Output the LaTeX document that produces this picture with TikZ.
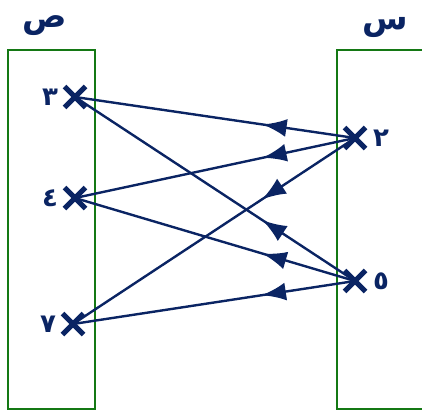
\documentclass[tikz,border=0pt]{standalone}
\usepackage{fontspec}
\newfontfamily\arabicfont[Script=Arabic]{DejaVu Sans}
\TeXXeTstate=1
\usetikzlibrary{arrows.meta,decorations.markings,shapes.misc}
\definecolor{navy}{RGB}{10,36,99}
\definecolor{setgreen}{RGB}{20,120,20}
\tikzset{
    map diagram/.style = {x=1pt, y=-1pt},
    setbox/.style      = {draw=setgreen, line width=1.8pt},
    elem/.style        = {cross out, draw=navy, line width=5pt,
                          minimum size=16pt, inner sep=0pt},
    num/.style         = {text=navy, font=\arabicfont\bfseries\fontsize{26}{26}\selectfont},
    setname/.style     = {text=navy, anchor=base, inner sep=0pt,
                          font=\arabicfont\bfseries\fontsize{33}{33}\selectfont},
    link/.style        = {draw=navy, line width=2.4pt,
                          postaction={decorate, decoration={markings,
                            mark=at position 0.33 with {\arrow{Latex[length=24pt,width=18pt]}}}}}
}
\begin{document}
\begin{tikzpicture}[map diagram]
\useasboundingbox (0,0) rectangle (422,412);

% the two sets
\draw[setbox] (8,50) rectangle (95,409);
\draw[setbox] (424,50) -| (337,409) -- (424,409);
\node[setname] (Y) at (45,28) {\beginR ص\endR};
\node[setname] (X) at (385,30) {\beginR س\endR};

% elements of the left set
\node[elem] (p3) at (75,97) {};
\node[elem] (p4) at (75,198) {};
\node[elem] (p7) at (73,324) {};
\node[num, left=3pt] at (p3.west) {٣};
\node[num, left=3pt] at (p4.west) {٤};
\node[num, left=3pt] at (p7.west) {٧};

% elements of the right set
\node[elem] (s2) at (355,138) {};
\node[elem] (s5) at (355,281) {};
\node[num, right=4pt] at (s2.east) {٢};
\node[num, right=4pt] at (s5.east) {٥};

% every element goes to every element
\foreach \s in {s2,s5}
    \foreach \p in {p3,p4,p7}
        \path[link] (\s.center) -- (\p.center);

\end{tikzpicture}
\end{document}
